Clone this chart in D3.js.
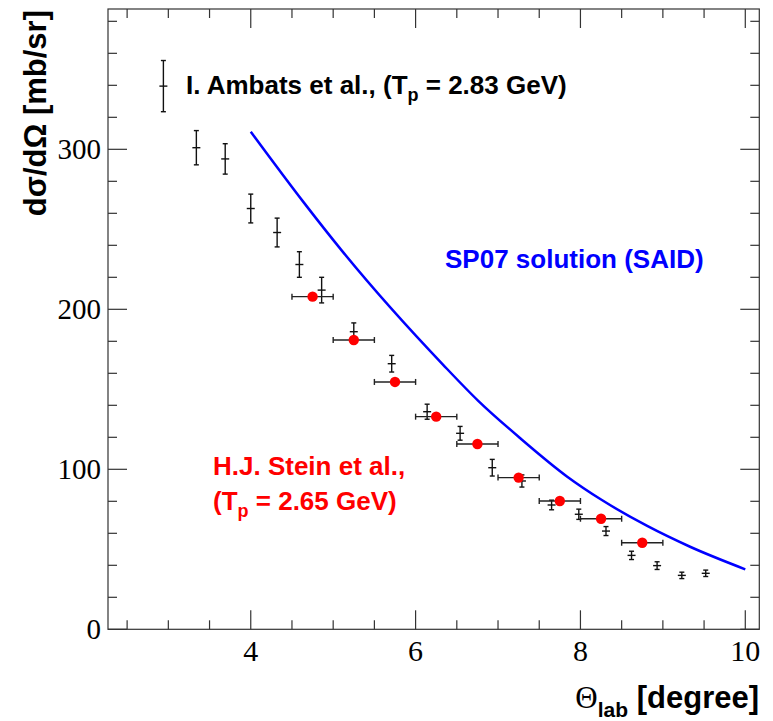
<!DOCTYPE html>
<html><head><meta charset="utf-8">
<script src="https://cdn.jsdelivr.net/npm/d3@7"></script>
<style>body{margin:0;background:#fff}svg{display:block}</style>
</head><body>
<script>
// Ambats et al. (Tp = 2.83 GeV)
const ambTheta = [2.94, 3.34, 3.69, 4.00, 4.32, 4.59, 4.86, 5.25, 5.71, 6.14, 6.54, 6.93, 7.29, 7.65, 7.98, 8.31, 8.62, 8.93, 9.23, 9.52];
const ambVal   = [339.5, 301, 294, 263, 248, 228, 212, 186, 166, 136, 122.5, 101, 92.7, 77.7, 71.9, 61.4, 46.2, 39.8, 33.7, 35.0];
const ambErr   = [16, 10.7, 9.5, 9, 9, 8, 8, 5.5, 5.2, 4.7, 4.3, 5.2, 3.8, 3.0, 3.2, 2.8, 2.6, 2.4, 2.0, 2.0];
// Stein et al. (Tp = 2.65 GeV)
const steinTheta = [4.75, 5.25, 5.75, 6.25, 6.75, 7.25, 7.75, 8.25, 8.75];
const steinVal   = [207.9, 180.8, 154.6, 132.9, 115.8, 94.8, 80.2, 69.1, 54.1];
const steinXErr  = [0.25, 0.25, 0.25, 0.25, 0.25, 0.25, 0.25, 0.25, 0.25];
// SP07 solution (SAID)
const saidTheta = [4.0, 4.64, 5.10, 6.34, 6.76, 7.27, 7.84, 8.26, 8.81, 9.33, 10.0];
const saidVal   = [311, 267, 237, 165, 142.8, 119.4, 95.4, 80.8, 64.6, 51.6, 37.5];
const xTicks = [4, 6, 8, 10];
const yTicks = [0, 100, 200, 300];

const W = 773, H = 721;
const L = 108, R = 759.3, T = 9, B = 629.3;
const svg = d3.select("body").append("svg").attr("width", W).attr("height", H);
const x = d3.scaleLinear().domain([2.268, 10.17]).range([L, R]);
const y = d3.scaleLinear().domain([0, 387.7]).range([B, T]);

const axisColor = "#333";
svg.append("rect").attr("x", L).attr("y", T).attr("width", R - L).attr("height", B - T)
  .attr("fill", "none").attr("stroke", axisColor).attr("stroke-width", 1.2);

const xMinor = d3.range(2.5, 10.01, 0.5).filter(v => v > 2.268);
const yMinor = d3.range(0, 388, 20);
function major(v, arr){ return arr.some(t => Math.abs(t - v) < 1e-6); }
const g = svg.append("g").attr("stroke", axisColor).attr("stroke-width", 1.2);
xMinor.forEach(v => {
  const len = major(v, xTicks) ? 19 : 9;
  g.append("line").attr("x1", x(v)).attr("x2", x(v)).attr("y1", B).attr("y2", B - len);
  g.append("line").attr("x1", x(v)).attr("x2", x(v)).attr("y1", T).attr("y2", T + len);
});
yMinor.forEach(v => {
  const len = major(v, yTicks) ? 19 : 9;
  g.append("line").attr("y1", y(v)).attr("y2", y(v)).attr("x1", L).attr("x2", L + len);
  g.append("line").attr("y1", y(v)).attr("y2", y(v)).attr("x1", R).attr("x2", R - len);
});

const serif = "'Liberation Serif', 'DejaVu Serif', serif";
const sans = "'Liberation Sans', Arial, Helvetica, sans-serif";
svg.selectAll(".xl").data(xTicks).enter().append("text")
  .attr("x", d => x(d)).attr("y", 661).attr("text-anchor", "middle")
  .attr("font-family", serif).attr("font-size", 30).text(d => d);
svg.selectAll(".yl").data(yTicks).enter().append("text")
  .attr("x", 101).attr("y", d => y(d) + 10).attr("text-anchor", "end")
  .attr("font-family", serif).attr("font-size", 29).text(d => d);

// axis titles
const xt = svg.append("text").attr("x", 759).attr("y", 708).attr("text-anchor", "end")
  .attr("font-family", sans).attr("font-weight", "bold").attr("font-size", 31);
xt.append("tspan").attr("font-family", serif).attr("font-weight", "normal").text("Θ");
xt.append("tspan").attr("font-size", 21).attr("dy", 9).text("lab");
xt.append("tspan").attr("dy", -9).text(" [degree]");

svg.append("text").attr("transform", "translate(46,10) rotate(-90)")
  .attr("text-anchor", "end").attr("font-family", sans).attr("font-weight", "bold")
  .attr("font-size", 31).text("dσ/dΩ [mb/sr]");

// SAID curve
const line = d3.line().x((d, i) => x(saidTheta[i])).y(d => y(d)).curve(d3.curveMonotoneX);
svg.append("path").attr("d", line(saidVal)).attr("fill", "none")
  .attr("stroke", "#0000ff").attr("stroke-width", 2.5);

// Ambats error bars
const amb = svg.append("g").attr("stroke", "#111").attr("stroke-width", 1.4);
ambVal.forEach((v, i) => {
  const cx = x(ambTheta[i]);
  amb.append("line").attr("x1", cx).attr("x2", cx).attr("y1", y(v - ambErr[i])).attr("y2", y(v + ambErr[i]));
  amb.append("line").attr("x1", cx - 2.5).attr("x2", cx + 2.5).attr("y1", y(v - ambErr[i])).attr("y2", y(v - ambErr[i]));
  amb.append("line").attr("x1", cx - 2.5).attr("x2", cx + 2.5).attr("y1", y(v + ambErr[i])).attr("y2", y(v + ambErr[i]));
  amb.append("line").attr("x1", cx - 4).attr("x2", cx + 4).attr("y1", y(v)).attr("y2", y(v));
});

// Stein points
const st = svg.append("g");
steinVal.forEach((v, i) => {
  const x0 = x(steinTheta[i] - steinXErr[i]), x1 = x(steinTheta[i] + steinXErr[i]), cy = y(v);
  st.append("line").attr("x1", x0).attr("x2", x1).attr("y1", cy).attr("y2", cy).attr("stroke", "#222").attr("stroke-width", 1.4);
  st.append("line").attr("x1", x0).attr("x2", x0).attr("y1", cy - 3).attr("y2", cy + 3).attr("stroke", "#222").attr("stroke-width", 1.4);
  st.append("line").attr("x1", x1).attr("x2", x1).attr("y1", cy - 3).attr("y2", cy + 3).attr("stroke", "#222").attr("stroke-width", 1.4);
  st.append("circle").attr("cx", x(steinTheta[i])).attr("cy", cy).attr("r", 5.2).attr("fill", "#ff0000");
});

// labels
const t1 = svg.append("text").attr("x", 186).attr("y", 94).attr("font-family", sans)
  .attr("font-weight", "bold").attr("font-size", 26).attr("fill", "#000");
t1.append("tspan").text("I. Ambats et al., (T");
t1.append("tspan").attr("font-size", 18).attr("dy", 7).text("p");
t1.append("tspan").attr("dy", -7).text(" = 2.83 GeV)");

svg.append("text").attr("x", 213).attr("y", 475).attr("font-family", sans)
  .attr("font-weight", "bold").attr("font-size", 26).attr("fill", "#ff0000").text("H.J. Stein et al.,");
const t3 = svg.append("text").attr("x", 213).attr("y", 510).attr("font-family", sans)
  .attr("font-weight", "bold").attr("font-size", 26).attr("fill", "#ff0000");
t3.append("tspan").text("(T");
t3.append("tspan").attr("font-size", 18).attr("dy", 7).text("p");
t3.append("tspan").attr("dy", -7).text(" = 2.65 GeV)");

svg.append("text").attr("x", 445).attr("y", 268).attr("font-family", sans)
  .attr("font-weight", "bold").attr("font-size", 26).attr("fill", "#0000ff").text("SP07 solution (SAID)");
</script>
</body></html>
